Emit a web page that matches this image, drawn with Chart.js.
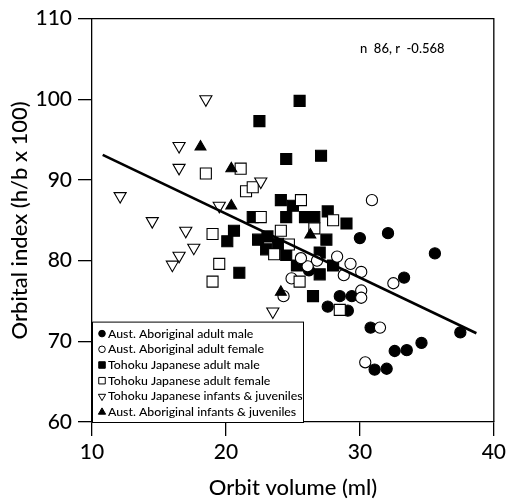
<!DOCTYPE html>
<html>
<head>
<meta charset="utf-8">
<script src="https://cdn.jsdelivr.net/npm/chart.js@4.4.0/dist/chart.umd.min.js"></script>
<style>
  html, body { margin: 0; padding: 0; background: #fff; }
</style>
</head>
<body>
<canvas id="myChart" width="510" height="501"></canvas>
<script>
// Aust. Aboriginal adult male (filled circles)
const ausMaleX = [30.0, 32.1, 35.6, 33.3, 37.5, 34.6, 33.5, 32.6, 32.0, 31.1, 30.8, 27.6, 28.5, 29.1, 29.4, 26.2];
const ausMaleY = [82.8, 83.4, 80.9, 77.9, 71.1, 69.8, 68.9, 68.8, 66.6, 66.5, 71.7, 74.3, 75.6, 73.8, 75.6, 78.8];
// Aust. Aboriginal adult female (open circles)
const ausFemaleX = [30.9, 32.5, 31.5, 30.4, 30.1, 30.1, 30.1, 29.3, 28.8, 28.3, 26.8, 26.1, 25.6, 24.9, 24.3];
const ausFemaleY = [87.5, 77.2, 71.7, 67.4, 78.6, 76.3, 75.4, 79.6, 78.2, 80.5, 80.0, 79.3, 80.3, 77.8, 75.6];
// Tohoku Japanese adult male (filled squares)
const tohMaleX = [25.5, 22.5, 24.5, 27.1, 24.1, 25.0, 24.5, 25.9, 26.6, 27.6, 29.0, 22.0, 20.6, 20.1, 22.4, 23.1, 23.0, 23.9, 24.5, 27.5, 27.0, 25.3, 28.0, 27.0, 26.5, 21.0];
const tohMaleY = [99.8, 97.3, 92.6, 93.0, 87.5, 86.8, 85.4, 85.4, 85.4, 86.1, 84.6, 85.4, 83.7, 82.4, 82.6, 83.0, 81.4, 82.1, 80.7, 82.6, 81.0, 79.4, 79.4, 78.3, 75.6, 78.5];
// Tohoku Japanese adult female (open squares)
const tohFemaleX = [18.5, 21.1, 21.5, 22.0, 22.6, 25.6, 28.0, 26.6, 24.1, 24.7, 23.6, 19.0, 19.5, 19.0, 25.5, 28.5];
const tohFemaleY = [90.8, 91.4, 88.6, 89.1, 85.4, 87.5, 85.0, 84.0, 83.7, 82.0, 80.8, 83.3, 79.6, 77.4, 77.4, 73.9];
// Tohoku Japanese infants & juveniles (open down triangles)
const tohJuvX = [18.5, 16.5, 16.5, 12.1, 14.5, 17.0, 17.6, 16.5, 16.0, 19.5, 22.6, 23.5];
const tohJuvY = [100.0, 94.2, 91.5, 88.0, 84.9, 83.7, 81.6, 80.6, 79.5, 86.8, 89.8, 73.7];
// Aust. Aboriginal infants & juveniles (filled triangles)
const ausJuvX = [18.1, 20.4, 20.4, 26.3, 24.1];
const ausJuvY = [94.1, 91.4, 86.8, 83.2, 76.1];
// regression line
const lineX = [10.8, 38.7];
const lineY = [93.1, 71.0];

const xTicks = [10, 20, 30, 40];
const yTicks = [60, 70, 80, 90, 100, 110];

const FONT = 'Lato';

function pts(xs, ys) {
  return xs.map((x, i) => ({ x: x, y: ys[i] }));
}

const series = [
  { label: 'Aust. Aboriginal adult male', data: pts(ausMaleX, ausMaleY), style: 'circle', r: 5.6, fill: '#000', rot: 0, lr: 3.3 },
  { label: 'Aust. Aboriginal adult female', data: pts(ausFemaleX, ausFemaleY), style: 'circle', r: 5.6, fill: '#fff', rot: 0, lr: 3.3 },
  { label: 'Tohoku Japanese adult male', data: pts(tohMaleX, tohMaleY), style: 'rect', r: 7.8, fill: '#000', rot: 0, lr: 4.6 },
  { label: 'Tohoku Japanese adult female', data: pts(tohFemaleX, tohFemaleY), style: 'rect', r: 7.8, fill: '#fff', rot: 0, lr: 4.6 },
  { label: 'Tohoku Japanese infants & juveniles', data: pts(tohJuvX, tohJuvY), style: 'triangle', r: 7, fill: '#fff', rot: 180, lr: 4.2 },
  { label: 'Aust. Aboriginal infants & juveniles', data: pts(ausJuvX, ausJuvY), style: 'triangle', r: 6.3, fill: '#000', rot: 0, lr: 4.2 }
];

const orderMap = [6, 4, 5, 3, 2, 1];

const datasets = series.map((s, i) => ({
  type: 'scatter',
  label: s.label,
  data: s.data,
  pointStyle: s.style,
  pointRadius: s.r,
  pointHoverRadius: s.r,
  pointRotation: s.rot,
  backgroundColor: s.fill,
  borderColor: '#000',
  borderWidth: 1.1,
  order: orderMap[i]
}));

datasets.push({
  type: 'line',
  label: 'fit',
  data: pts(lineX, lineY),
  borderColor: '#000',
  borderWidth: 2.6,
  pointRadius: 0,
  fill: false,
  order: 0
});

// frame, legend box and annotation
const extras = {
  id: 'extras',
  afterDatasetsDraw(chart) {
    const ctx = chart.ctx;
    const a = chart.chartArea;
    ctx.save();
    ctx.strokeStyle = '#000';
    ctx.lineWidth = 1.3;
    ctx.beginPath();
    ctx.moveTo(a.left, a.top);
    ctx.lineTo(a.right, a.top);
    ctx.lineTo(a.right, a.bottom);
    ctx.stroke();

    // legend
    const lx = a.left, ly = a.top + 303, lw = 211, lh = a.bottom - ly;
    ctx.fillStyle = '#fff';
    ctx.fillRect(lx, ly, lw, lh);
    ctx.lineWidth = 1;
    ctx.strokeRect(lx + 0.5, ly + 0.5, lw, lh);
    ctx.font = '500 12.3px ' + FONT;
    ctx.textBaseline = 'middle';
    ctx.textAlign = 'left';
    series.forEach((s, i) => {
      const yy = ly + 12 + i * 15.7;
      ctx.fillStyle = s.fill;
      ctx.strokeStyle = '#000';
      ctx.lineWidth = 1;
      Chart.helpers.drawPoint(ctx, { pointStyle: s.style, radius: s.lr, rotation: s.rot, borderWidth: 1 }, lx + 10, yy);
      ctx.fillStyle = '#000';
      ctx.fillText(s.label, lx + 16, yy);
    });

    // annotation
    ctx.font = '500 13px ' + FONT;
    ctx.textAlign = 'left';
    ctx.fillStyle = '#000';
    ctx.fillText('n  86, r  -0.568', 360, 49);
    ctx.restore();
  }
};

const ctx = document.getElementById('myChart');

new Chart(ctx, {
  data: { datasets: datasets },
  options: {
    responsive: false,
    animation: false,
    layout: { padding: { top: 17, right: 13, left: 0, bottom: 0 } },
    plugins: {
      legend: { display: false },
      tooltip: { enabled: false }
    },
    scales: {
      x: {
        type: 'linear',
        min: 10,
        max: 40,
        afterBuildTicks: s => { s.ticks = xTicks.map(v => ({ value: v })); },
        afterFit: s => { s.height = 79; },
        grid: { drawOnChartArea: false, tickLength: 14, color: '#000', lineWidth: 1.3 },
        border: { color: '#000', width: 1.3 },
        ticks: { color: '#000', padding: 4, font: { family: FONT, size: 21, weight: 500 } },
        title: { display: true, text: 'Orbit volume (ml)', color: '#000', padding: { top: 5, bottom: 0 }, font: { family: FONT, size: 22, weight: 500 } }
      },
      y: {
        type: 'linear',
        min: 60,
        max: 110,
        afterBuildTicks: s => { s.ticks = yTicks.map(v => ({ value: v })); },
        afterFit: s => { s.width = 92; },
        grid: { drawOnChartArea: false, tickLength: 14, color: '#000', lineWidth: 1.3 },
        border: { color: '#000', width: 1.3 },
        ticks: { color: '#000', padding: 6, font: { family: FONT, size: 21, weight: 500 } },
        title: { display: true, text: 'Orbital index (h/b x 100)', color: '#000', padding: { top: 7, bottom: 0 }, font: { family: FONT, size: 22, weight: 500 } }
      }
    }
  },
  plugins: [extras]
});
</script>
</body>
</html>
